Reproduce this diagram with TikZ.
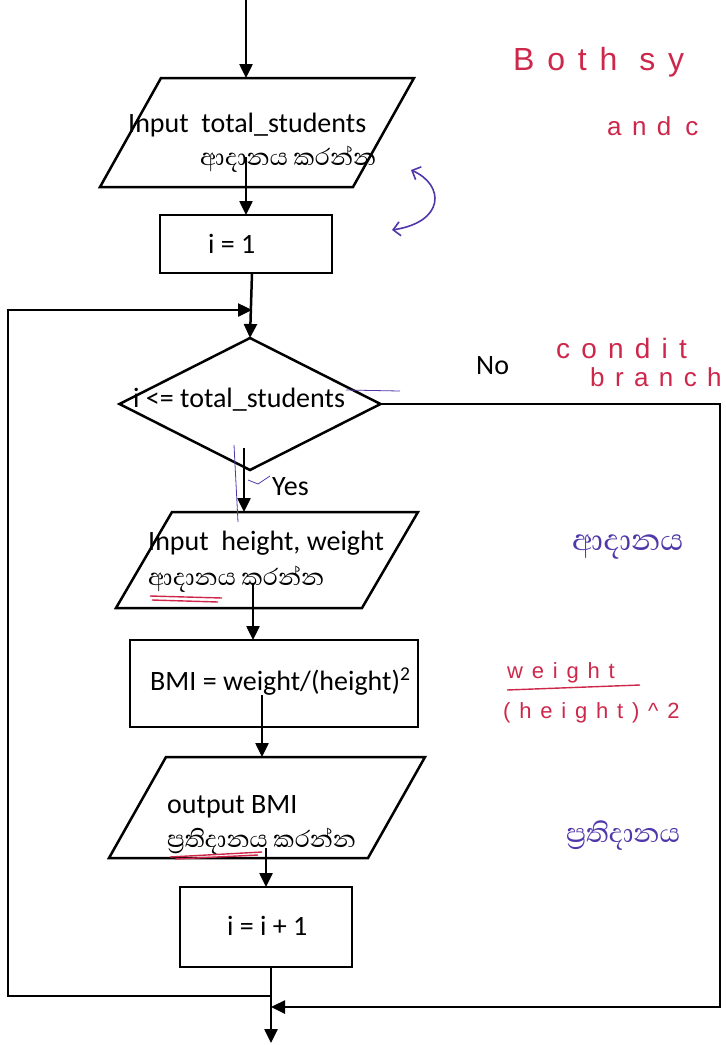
\documentclass[tikz,border=0pt]{standalone}
\usepackage{fontspec}
\setmainfont{Carlito}
\newfontfamily\sinhalafnt[Script=Sinhala]{Abhaya Libre}
\newfontfamily\handfnt[LetterSpace=40]{Liberation Sans}
\usetikzlibrary{shapes.geometric,arrows.meta,calc}
\definecolor{inkred}{RGB}{205,40,75}
\definecolor{inkblue}{RGB}{80,55,170}
\tikzset{
  ln/.style={line width=2.5pt, line join=miter},
  arr/.style={line width=2.5pt,-{Triangle[length=14pt,width=13pt]}},
  parabox/.style={rectangle, draw=none, inner sep=0pt, outer sep=0pt},
  proc/.style={rectangle, draw, line width=2.5pt, inner sep=0pt, outer sep=0pt},
  txt/.style={font=\fontsize{28}{30}\selectfont, inner sep=0pt, anchor=base west},
  sin/.style={font=\sinhalafnt\fontsize{30}{32}\selectfont, inner sep=0pt, anchor=base west},
  hw/.style={font=\handfnt\fontsize{28}{30}\selectfont, inner sep=0pt, anchor=base west},
  hws/.style={font=\sinhalafnt\fontsize{38}{40}\selectfont, inner sep=0pt, anchor=base west, text=inkblue},
}
\begin{document}
\begin{tikzpicture}[x=1pt,y=-1pt]
\useasboundingbox (0,0) rectangle (726,1045);
\fill[white] (0,0) rectangle (726,1045);

% shapes
\node[parabox, minimum width=314pt, minimum height=109pt] (p1) at (257,132.5) {};
\draw[ln] (p1.south west) -- ([xshift=-61pt]p1.south east) -- (p1.north east) -- ([xshift=61pt]p1.north west) -- cycle;
\node[proc, minimum width=172pt, minimum height=58pt] (box1) at (246,244) {};
\node[diamond, draw, line width=2.5pt, inner sep=0pt, outer sep=0pt, minimum width=261pt, minimum height=132pt] (dia) at (250,404) {};
\node[parabox, minimum width=302pt, minimum height=96pt] (p2) at (267,560) {};
\draw[ln] (p2.south west) -- ([xshift=-56pt]p2.south east) -- (p2.north east) -- ([xshift=56pt]p2.north west) -- cycle;
\node[proc, minimum width=288pt, minimum height=87pt] (bmi) at (274,683.5) {};
\node[parabox, minimum width=316pt, minimum height=101pt] (p3) at (267,807.5) {};
\draw[ln] (p3.south west) -- ([xshift=-57pt]p3.south east) -- (p3.north east) -- ([xshift=57pt]p3.north west) -- cycle;
\node[proc, minimum width=172pt, minimum height=80pt] (box4) at (266,927) {};

% texts
\node[txt] (t1) at (128,132) {Input~ total\_students};
\node[sin] (s1) at (200,165) {ආදානය කරන්න};
\node[txt] (t2) at (208,253) {i = 1};
\node[txt] (t3) at (133,407) {i <= total\_students};
\node[txt] (yes) at (272,495) {Yes};
\node[txt] (no) at (476,374) {No};
\node[txt] (t4) at (148,550) {Input~ height, weight};
\node[sin] (s2) at (148,585) {ආදානය කරන්න};
\node[txt] (t5) at (150,690) {BMI = weight/(height)\textsuperscript{2}};
\node[txt] (t6) at (167,813) {output BMI};
\node[sin] (s3) at (167,847) {ප්^^^^200dරතිදානය කරන්න};
\node[txt] (t7) at (227,935) {i = i + 1};

% connectors
\coordinate (top) at (246,0);
\coordinate (loopin) at (252,310);
\coordinate (lc) at (8,310);
\coordinate (loopout) at (271,996);
\coordinate (noR) at (720,400);
\coordinate (noin) at (271,1007);
\coordinate (endpt) at (271,1043);

\draw[arr] (top) -- ([xshift=-11pt]p1.north);
\draw[arr] ([xshift=-11pt,yshift=30pt]p1.south) -- (box1.north);
\draw[arr] ([xshift=6pt]box1.south) -- (dia.north);
\draw[arr] ([xshift=-6pt,yshift=22pt]dia.south) -- ([xshift=-23pt]p2.north);
\draw[arr] ([xshift=-14pt,yshift=25pt]p2.south) -- ([xshift=-21pt]bmi.north);
\draw[arr] ([xshift=-12pt,yshift=32pt]bmi.south) -- ([xshift=-5pt]p3.north);
\draw[arr] ([xshift=-1pt,yshift=10pt]p3.south) -- (box4.north);
\draw[arr] ([xshift=5pt]box4.south) -- (endpt);
\draw[arr] (loopout) -- (loopout -| lc) -- (lc) -- (loopin);
\draw[arr] (dia.east) -- (dia.east -| noR) -- (noR |- noin) -- (noin);

% handwritten annotations
\node[hw, text=inkred, font=\handfnt\fontsize{32}{34}\selectfont] (h1) at (513,70) {Both\hspace{22pt}sy};
\node[hw, text=inkred, font=\handfnt\fontsize{26}{28}\selectfont] (h2) at (607,135) {and\hspace{14pt}c};
\node[hw, text=inkred] (h3) at (556,358) {condit};
\node[hw, text=inkred, font=\handfnt\fontsize{26}{28}\selectfont] (h4) at (590,386) {branch};
\node[hws] (h5) at (572,550) {ආදානය};
\node[hw, text=inkred, font=\handfnt\fontsize{22}{24}\selectfont] (h6) at (507,678) {weight};
\draw[inkred, line width=1.4pt] (507,690) -- (640,685);
\node[hw, text=inkred, font=\handfnt\fontsize{22}{24}\selectfont] (h7) at (503,718) {(height)\textasciicircum 2};
\node[hws, font=\sinhalafnt\fontsize{34}{36}\selectfont] (h8) at (566,842) {ප්^^^^200dරතිදානය};

\coordinate (ba1) at (411,170);
\coordinate (ba2) at (392,230);
\draw[inkblue, line width=1.6pt, {Straight Barb[length=7pt]}-{Straight Barb[length=7pt]}] (ba1) .. controls (445,185) and (445,222) .. (ba2);

\draw[inkred, line width=1.4pt] (150,596) -- (222,598) (152,600) -- (218,602);
\draw[inkred, line width=1.4pt] (170,857) -- (262,852) (175,859) -- (258,855);
\draw[inkblue, line width=0.8pt] (234,445) -- (238,522);
\draw[inkblue, line width=0.8pt] (248,480) -- (258,484) -- (270,476);
\draw[inkblue, line width=0.8pt] (346,390) -- (400,391);
\end{tikzpicture}
\end{document}
